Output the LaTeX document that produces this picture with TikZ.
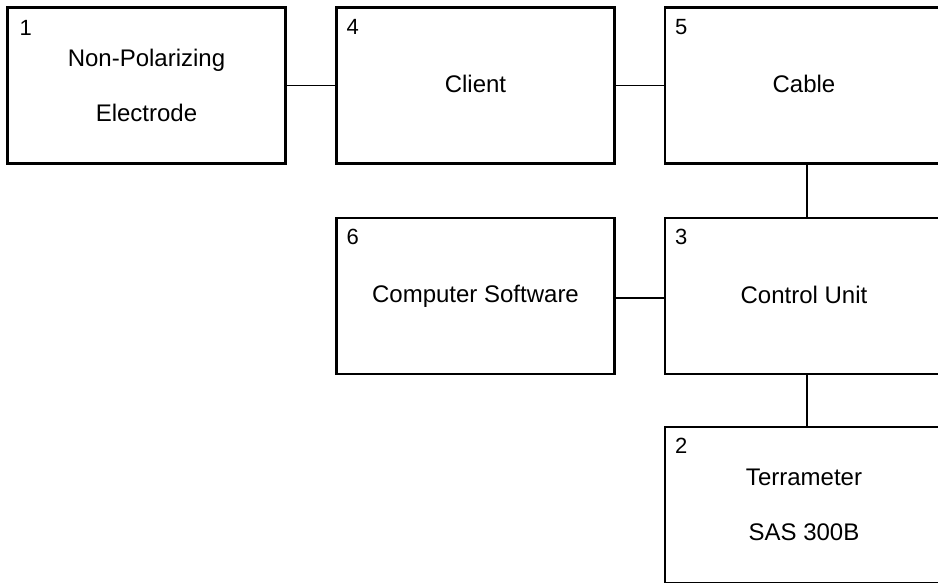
\documentclass[tikz,border=0pt]{standalone}
\usepackage{fontspec}
\setmainfont{Liberation Sans}
\begin{document}
\begin{tikzpicture}[x=1bp,y=-1bp,
  block/.style={draw, line width=2.2bp, minimum width=278bp, minimum height=156bp,
    inner sep=0pt, align=center, font=\fontsize{24bp}{55bp}\selectfont},
  num/.style={anchor=base west, inner sep=0pt, font=\fontsize{22bp}{24bp}\selectfont},
  link/.style={line width=1.8bp}]
  \useasboundingbox (0,0) rectangle (938,583);

  % blocks
  \node[block] (b1) at (146.5,85.5) {Non-Polarizing\\Electrode};
  \node[block] (b4) at (475.5,85.5) {\raisebox{3bp}{Client}};
  \node[block] (b5) at (804,85.5) {\raisebox{3bp}{Cable}};
  \node[block] (b6) at (475.5,296) {Computer Software};
  \node[block] (b3) at (804,296) {\raisebox{3bp}{Control Unit}};
  \node[block] (b2) at (804,505) {Terrameter\\SAS 300B};

  % block numbers
  \node[num] (n1) at ([shift={(13,29)}]b1.north west) {1};
  \node[num] (n4) at ([shift={(11,28)}]b4.north west) {4};
  \node[num] (n5) at ([shift={(11,28)}]b5.north west) {5};
  \node[num] (n6) at ([shift={(11,28)}]b6.north west) {6};
  \node[num] (n3) at ([shift={(11,28)}]b3.north west) {3};
  \node[num] (n2) at ([shift={(11,28)}]b2.north west) {2};

  % connections
  \draw[link] (b1.east) -- (b4.west);
  \draw[link] (b4.east) -- (b5.west);
  \draw[link] ([xshift=3]b5.south) -- ([xshift=3]b3.north);
  \draw[link] ([yshift=-2]b6.east) -- ([yshift=-2]b3.west);
  \draw[link] ([xshift=3]b3.south) -- ([xshift=3]b2.north);
\end{tikzpicture}
\end{document}
